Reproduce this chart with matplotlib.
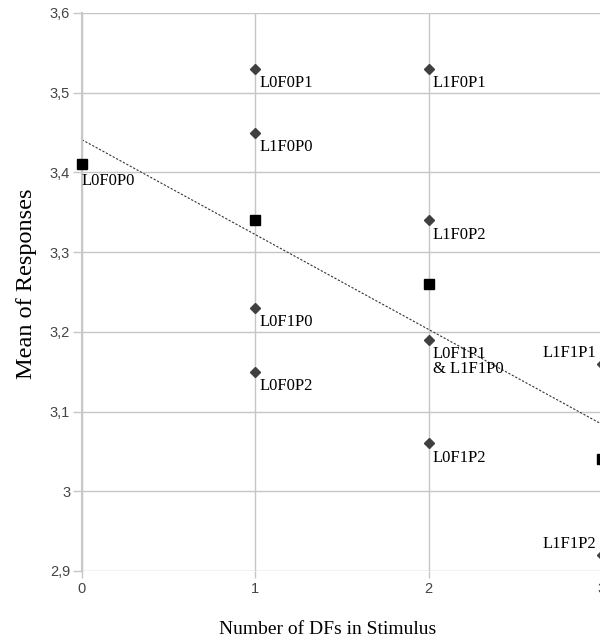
import numpy as np
import matplotlib.pyplot as plt

# individual conditions (diamonds)
cond_x = [1, 1, 1, 1, 2, 2, 2, 2, 3, 3]
cond_y = [3.53, 3.45, 3.23, 3.15, 3.53, 3.34, 3.19, 3.06, 3.16, 2.92]
cond_lbl = ["L0F0P1", "L1F0P0", "L0F1P0", "L0F0P2",
            "L1F0P1", "L1F0P2", "L0F1P1\n& L1F1P0", "L0F1P2",
            "L1F1P1", "L1F1P2"]

# means per number of DFs (squares)
mean_x = [0, 1, 2, 3]
mean_y = [3.41, 3.34, 3.26, 3.04]

yticks = [2.9, 3.0, 3.1, 3.2, 3.3, 3.4, 3.5, 3.6]
ytick_lbl = ["2,9", "3", "3,1", "3,2", "3,3", "3,4", "3,5", "3,6"]

fig = plt.figure(figsize=(6.0, 6.41), dpi=100)
ax = fig.add_axes([82/600, 70/641, 520/600, 558/641])

grid_c = "#c6c6c6"
ax.set_xlim(0, 3)
ax.set_ylim(2.9, 3.6)
ax.set_xticks([0, 1, 2, 3])
ax.set_yticks(yticks)
ax.set_yticklabels(ytick_lbl)
ax.grid(True, color=grid_c, lw=1)
ax.set_axisbelow(True)
for s in ["top", "right", "bottom"]:
    ax.spines[s].set_visible(False)
ax.spines["left"].set_color("#c8c8c8")
ax.spines["left"].set_linewidth(1.5)
ax.tick_params(axis="y", colors=grid_c, length=6.5, width=1, pad=2,
               labelcolor="#444444", labelsize=10.5)
ax.tick_params(axis="x", colors=grid_c, length=5, width=1, pad=3,
               labelcolor="#444444", labelsize=10.5)
for t in ax.get_xticklabels() + ax.get_yticklabels():
    t.set_family("Liberation Sans")

# trend line through the means
k, b = np.polyfit(mean_x, mean_y, 1)
xs = np.array([0, 3])
ax.plot(xs, k * xs + b, ls=(0, (2, 1.5)), color="#333333", lw=0.8, zorder=2)

ax.plot(cond_x, cond_y, ls="none", marker="D", ms=5.5, color="#404040",
        clip_on=False, zorder=3)
ax.plot(mean_x, mean_y, ls="none", marker="s", ms=7.5, color="black",
        clip_on=False, zorder=4)

serif = "Liberation Serif"
for x, y, t in zip(cond_x, cond_y, cond_lbl):
    if x == 3:
        ax.annotate(t, (x, y), xytext=(-4, 2), textcoords="offset points",
                    ha="right", va="bottom", family=serif, fontsize=12)
    else:
        ax.annotate(t, (x, y), xytext=(3, -4.5), textcoords="offset points",
                    ha="left", va="top", family=serif, fontsize=12,
                    linespacing=0.95)
ax.annotate("L0F0P0", (mean_x[0], mean_y[0]), xytext=(0, -6),
            textcoords="offset points", ha="left", va="top",
            family=serif, fontsize=12)

ax.set_xlabel("Number of DFs in Stimulus", family=serif, fontsize=14)
ax.set_ylabel("Mean of Responses", family=serif, fontsize=17.5)
ax.xaxis.set_label_coords((328 - 82) / 520, -(630 - 571) / 558)
ax.xaxis.label.set_va("center")
ax.yaxis.set_label_coords((27 - 82) / 520, (571 - 284) / 558)
ax.yaxis.label.set_va("center")

fig.savefig("out.png", dpi=100)
